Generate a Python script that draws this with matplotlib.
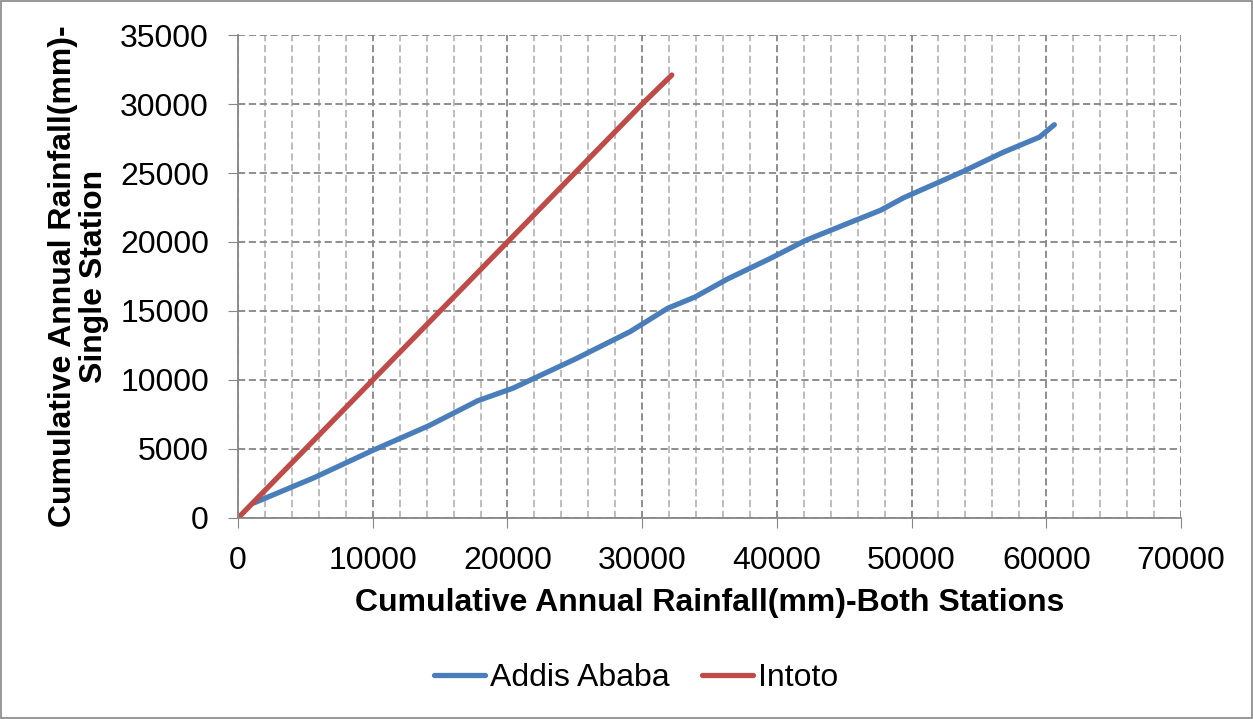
import matplotlib.pyplot as plt
from matplotlib.patches import Rectangle
from matplotlib.ticker import MultipleLocator

plt.rcParams['font.family'] = ['Liberation Sans', 'DejaVu Sans']

# double mass curve values
addis_x = [1200, 5600, 10000, 14200, 17800, 20400, 25000, 29100, 31900, 33900,
           36300, 39500, 42100, 45400, 47700, 49400, 53800, 56800, 59500, 60600]
addis_y = [1100, 2900, 4900, 6700, 8500, 9400, 11500, 13500, 15200, 16000,
           17300, 18800, 20100, 21400, 22300, 23200, 25100, 26500, 27600, 28500]

intoto_x = [200, 5000, 10000, 15000, 20000, 25000, 30000, 32200]
intoto_y = [200, 5000, 10000, 15000, 20000, 25000, 30000, 32100]

fig = plt.figure(figsize=(12.53, 7.19), dpi=100)
ax = fig.add_axes([0.19, 0.2796, 0.7525, 0.6717])

ax.plot(addis_x, addis_y, color='#4a7ebb', lw=3.8, label='Addis Ababa',
        solid_capstyle='round')
ax.plot(intoto_x, intoto_y, color='#be4b48', lw=3.8, label='Intoto',
        solid_capstyle='round')

ax.set_xlim(0, 70000)
ax.set_ylim(0, 35000)
ax.xaxis.set_major_locator(MultipleLocator(10000))
ax.xaxis.set_minor_locator(MultipleLocator(2000))
ax.yaxis.set_major_locator(MultipleLocator(5000))

ax.grid(which='major', color='#868686', ls=(0, (4, 2)), lw=1.3)
ax.grid(which='minor', axis='x', color='#b8b8b8', ls=(0, (4, 2)), lw=1.3)
ax.set_axisbelow(True)

for s in ['top', 'right']:
    ax.spines[s].set_visible(False)
for s in ['left', 'bottom']:
    ax.spines[s].set_color('#868686')
    ax.spines[s].set_linewidth(1.3)

ax.tick_params(which='major', length=7, color='#868686', labelsize=23)
ax.tick_params(axis='x', pad=13)
ax.tick_params(axis='y', pad=14)
ax.tick_params(which='minor', length=0)

ax.set_xlabel('Cumulative Annual Rainfall(mm)-Both Stations',
              fontsize=23, fontweight='bold', labelpad=9)
ax.set_ylabel('Cumulative Annual Rainfall(mm)-\nSingle Station',
              fontsize=23, fontweight='bold', labelpad=8, linespacing=1.05)

fig.legend(loc='center', bbox_to_anchor=(0.5076, 0.057), ncol=2, frameon=False,
           fontsize=23, handlelength=1.6, columnspacing=1.0, handletextpad=0.15)

fig.patches.append(Rectangle((0.0008, 0.0014), 0.9984, 0.9972,
                             transform=fig.transFigure, fill=False,
                             edgecolor='#868686', lw=1.2))

fig.savefig('out.png', dpi=100)
